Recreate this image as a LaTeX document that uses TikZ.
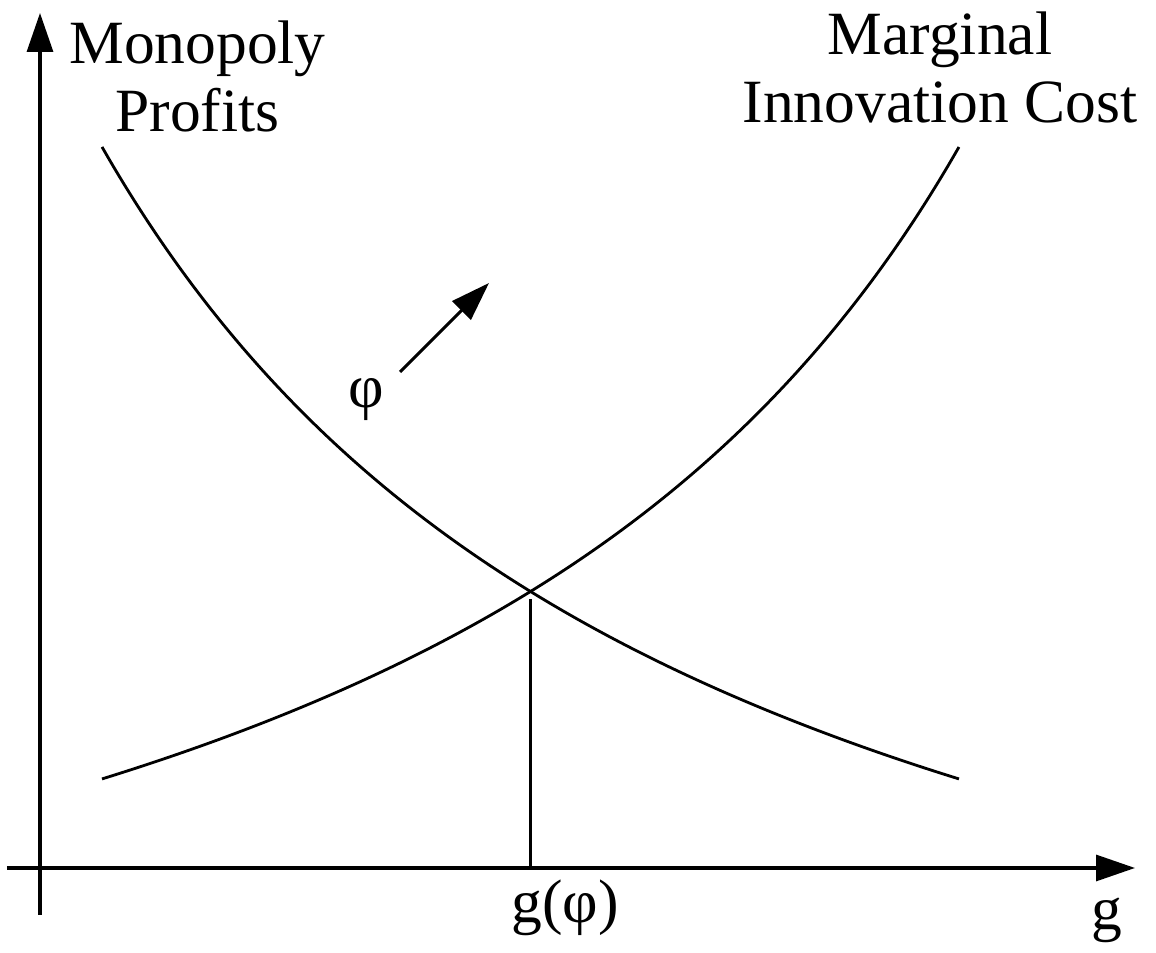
\documentclass[tikz,border=0pt]{standalone}
\usepackage{fontspec}
\setmainfont{Liberation Serif}
\usetikzlibrary{arrows.meta}
\begin{document}
\begin{tikzpicture}[x=2cm,y=2cm,line width=1.6pt,>={Triangle[length=0.78cm,width=0.52cm]},
	lbl/.style={font=\fontsize{35}{39}\selectfont,inner sep=0pt,align=center}]
		\useasboundingbox (-0.40,-0.85) rectangle (11.16,8.68);
		\coordinate (O) at (0,0);
		\coordinate (ybot) at (0,-0.47);
		\coordinate (ytop) at (0,8.55);
		\coordinate (xleft) at (-0.33,0);
		\coordinate (xright) at (10.95,0);
		\draw[->,line width=1.8pt] (ybot)--(ytop);
		\draw[->,line width=1.8pt] (xleft)--(xright);
		% profits falling, cost rising
		\draw[smooth,samples=80,domain=0.62:9.19] plot (\x,{68.275/(\x+5.628)-3.717});
		\draw[smooth,samples=80,domain=0.62:9.19] plot (\x,{68.275/(15.438-\x)-3.717});
		\coordinate (eq) at (4.905,2.765);
		\draw ([yshift=-0.16cm]eq)--(eq|-O);
		\coordinate (shiftA) at (3.60,4.96);
		\coordinate (shiftB) at (4.49,5.85);
		\draw[->,line width=1.7pt] (shiftA)--(shiftB);
		\node[lbl] (phi) at (3.26,4.68) {φ};
		\node[lbl,anchor=base] (profits) at (1.575,7.36) {Monopoly\\Profits};
		\node[lbl,anchor=base] (cost) at (9.00,7.45) {Marginal\\Innovation Cost};
		\node[lbl,anchor=base] (gphi) at (5.25,-0.55) {g(φ)};
		\node[lbl,anchor=base] (glabel) at (10.67,-0.62) {g};
\end{tikzpicture}
\end{document}
